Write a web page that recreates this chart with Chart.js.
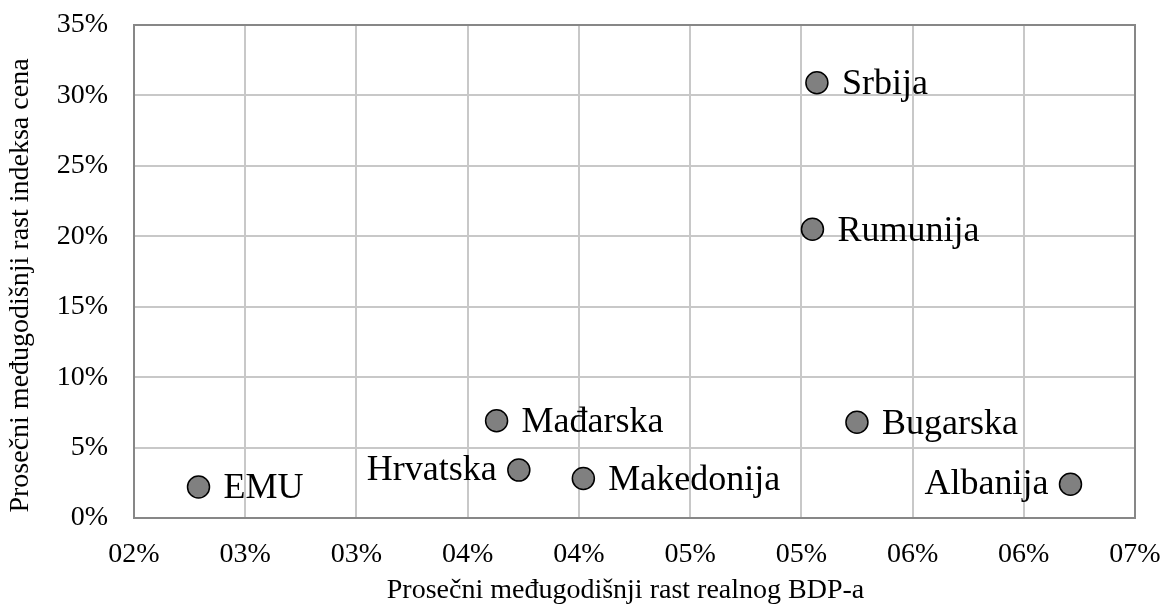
<!DOCTYPE html>
<html><head><meta charset="utf-8">
<script src="https://cdn.jsdelivr.net/npm/chart.js@4/dist/chart.umd.min.js"></script>
<style>html,body{margin:0;padding:0;background:#fff}#wrap{width:1162px;height:607px}</style>
</head><body><div id="wrap"><canvas id="c" width="1162" height="607"></canvas></div>
<script>
const countries = ['EMU','Hrvatska','Mađarska','Makedonija','Bugarska','Albanija','Srbija','Rumunija'];
const gdpGrowth = [2.29, 3.73, 3.63, 4.02, 5.25, 6.21, 5.07, 5.05];
const priceGrowth = [2.2, 3.4, 6.9, 2.8, 6.8, 2.4, 30.9, 20.5];
const labelSide = ['right','left','right','right','right','left','right','right'];
const xTickLabels = ['02%','03%','03%','04%','04%','05%','05%','06%','06%','07%'];
const yTickLabels = ['0%','5%','10%','15%','20%','25%','30%','35%'];
const xTitle = 'Prosečni međugodišnji rast realnog BDP-a';
const yTitle = 'Prosečni međugodišnji rast indeksa cena';

const FONT = "'Liberation Serif', 'Times New Roman', serif";

const labelPlugin = {
  id: 'pointLabels',
  afterDatasetsDraw(chart) {
    const ctx = chart.ctx;
    const meta = chart.getDatasetMeta(0);
    ctx.save();
    ctx.font = '36px ' + FONT;
    ctx.fillStyle = '#000';
    ctx.textBaseline = 'middle';
    meta.data.forEach((pt, i) => {
      if (labelSide[i] === 'left') {
        ctx.textAlign = 'right';
        ctx.fillText(countries[i], pt.x - 22, pt.y);
      } else {
        ctx.textAlign = 'left';
        ctx.fillText(countries[i], pt.x + 25, pt.y + 2);
      }
    });
    ctx.restore();
  }
};
const titlePlugin = {
  id: 'axisTitles',
  afterDraw(chart) {
    const ctx = chart.ctx, a = chart.chartArea;
    ctx.save();
    ctx.font = '28px ' + FONT;
    ctx.fillStyle = '#000';
    ctx.textAlign = 'center';
    ctx.textBaseline = 'middle';
    ctx.fillText(xTitle, (a.left + a.right) / 2 - 9, 591);
    ctx.translate(21, (a.top + a.bottom) / 2 + 14);
    ctx.rotate(-Math.PI / 2);
    ctx.fillText(yTitle, 0, 0);
    ctx.restore();
  }
};
const borderPlugin = {
  id: 'frame',
  beforeDatasetsDraw(chart) {
    const a = chart.chartArea, ctx = chart.ctx;
    ctx.save();
    ctx.strokeStyle = '#878787';
    ctx.lineWidth = 2;
    ctx.strokeRect(a.left, a.top, a.right - a.left, a.bottom - a.top);
    ctx.restore();
  }
};

new Chart(document.getElementById('c'), {
  type: 'scatter',
  data: {
    datasets: [{
      data: gdpGrowth.map((x, i) => ({x: x, y: priceGrowth[i]})),
      backgroundColor: '#808080',
      borderColor: '#000',
      borderWidth: 1.5,
      pointRadius: 11,
      pointHoverRadius: 11
    }]
  },
  options: {
    responsive: false,
    animation: false,
    events: [],
    layout: {padding: {top: 25, right: 27, left: 0, bottom: 0}},
    plugins: {legend: {display: false}, tooltip: {enabled: false}},
    scales: {
      x: {
        type: 'linear', min: 2.0, max: 6.5,
        afterBuildTicks(s) { s.ticks = xTickLabels.map((_, i) => ({value: 2.0 + i * 0.5})); },
        afterFit(s) { s.height = 89; s.paddingLeft = 0; s.paddingRight = 0; },
        ticks: {
          callback: (v, i) => xTickLabels[i],
          font: {family: FONT, size: 28}, color: '#000', padding: 20, maxRotation: 0, autoSkip: false
        },
        grid: {color: '#c8c8c8', lineWidth: 2, drawTicks: false},
        border: {display: false},
        title: {display: false}
      },
      y: {
        type: 'linear', min: 0, max: 35,
        afterBuildTicks(s) { s.ticks = yTickLabels.map((_, i) => ({value: i * 5})); },
        afterFit(s) { s.width = 134; s.paddingTop = 0; s.paddingBottom = 0; },
        ticks: {
          callback: (v, i) => yTickLabels[i],
          font: {family: FONT, size: 28}, color: '#000', padding: 26, autoSkip: false
        },
        grid: {color: '#c8c8c8', lineWidth: 2, drawTicks: false},
        border: {display: false},
        title: {display: false}
      }
    }
  },
  plugins: [borderPlugin, labelPlugin, titlePlugin]
});
</script>
</body></html>
